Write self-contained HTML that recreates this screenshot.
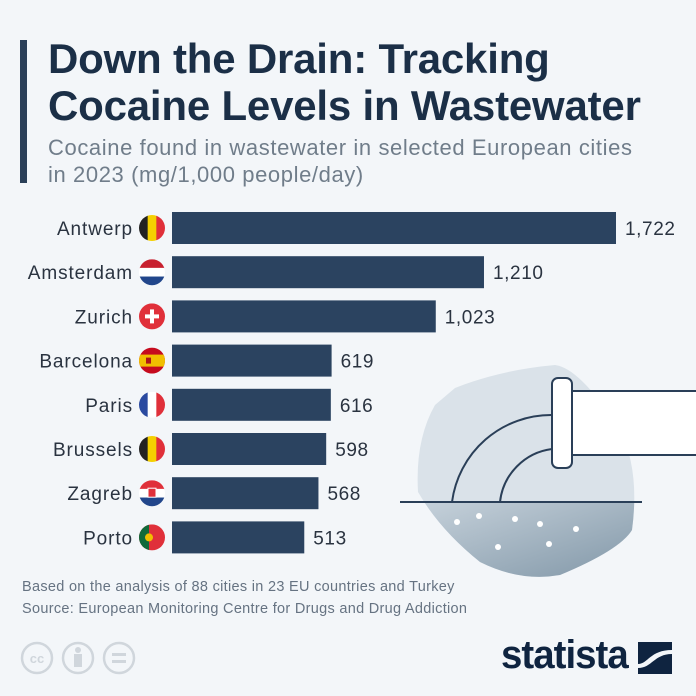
<!DOCTYPE html>
<html><head><meta charset="utf-8">
<style>
body{margin:0;width:696px;height:696px;background:#f3f6f9;font-family:"Liberation Sans",sans-serif;overflow:hidden;position:relative}
.t{position:absolute;left:48px;top:35px;font-size:42px;font-weight:bold;color:#1b2f47;line-height:47px;letter-spacing:-0.2px;white-space:nowrap}
.s{position:absolute;left:48px;top:134px;font-size:22px;color:#707d8a;line-height:27px;letter-spacing:0.6px;white-space:nowrap}
.bar{position:absolute;left:20px;top:40px;width:7px;height:143px;background:#2a3f58}
.f{position:absolute;left:22px;font-size:14.5px;color:#667382;letter-spacing:0.3px;white-space:nowrap}
</style></head><body>
<div class="bar"></div>
<div class="t">Down the Drain: Tracking<br>Cocaine Levels in Wastewater</div>
<div class="s">Cocaine found in wastewater in selected European cities<br>in 2023 (mg/1,000 people/day)</div>
<svg width="696" height="696" style="position:absolute;left:0;top:0">
<defs><linearGradient id="w" x1="0" y1="0" x2="1" y2="1"><stop offset="0" stop-color="#c9d4dd"/><stop offset="1" stop-color="#6c8598"/></linearGradient>
<clipPath id="hx"><path d="M455,388 Q500,370 555,365 Q580,368 620,430 Q640,470 632,530 Q620,550 560,575 Q520,582 480,562 Q440,530 418,492 Q415,440 435,405 Z"/></clipPath></defs>
<g>
<path d="M455,388 Q500,370 555,365 Q580,368 620,430 Q640,470 632,530 Q620,550 560,575 Q520,582 480,562 Q440,530 418,492 Q415,440 435,405 Z" fill="#dae2e9"/>
<rect x="400" y="502" width="300" height="100" fill="url(#w)" clip-path="url(#hx)"/>
<line x1="400" y1="502" x2="642" y2="502" stroke="#2a3f58" stroke-width="2"/>
<path d="M452,502 A100,100 0 0 1 552,415" fill="none" stroke="#2a3f58" stroke-width="2"/>
<path d="M500,502 A60,60 0 0 1 552,449" fill="none" stroke="#2a3f58" stroke-width="2"/>
<rect x="571" y="391" width="130" height="64" fill="#fff"/>
<line x1="571" y1="391" x2="696" y2="391" stroke="#2a3f58" stroke-width="2"/>
<line x1="571" y1="455" x2="696" y2="455" stroke="#2a3f58" stroke-width="2"/>
<rect x="552" y="378" width="20" height="90" rx="6" fill="#fff" stroke="#2a3f58" stroke-width="2"/>
<g fill="#fff"><circle cx="457" cy="522" r="3"/><circle cx="479" cy="516" r="3"/><circle cx="515" cy="519" r="3"/><circle cx="540" cy="524" r="3"/><circle cx="576" cy="529" r="3"/><circle cx="498" cy="547" r="3"/><circle cx="549" cy="544" r="3"/></g>
</g>
<g id="bars"></g>
</svg>
<div class="f" style="top:579px">Based on the analysis of 88 cities in 23 EU countries and Turkey</div>
<div class="f" style="top:601px">Source: European Monitoring Centre for Drugs and Drug Addiction</div>
<svg width="130" height="40" style="position:absolute;left:18px;top:638px">
<g fill="none" stroke="#d0d6dc" stroke-width="2.5"><circle cx="19" cy="20" r="15"/><circle cx="60" cy="20" r="15"/><circle cx="101" cy="20" r="15"/></g>
<text x="19" y="25" font-size="13" text-anchor="middle" fill="#d0d6dc" font-weight="bold">cc</text>
<circle cx="60" cy="12" r="3" fill="#d0d6dc"/><rect x="56" y="16" width="8" height="13" fill="#d0d6dc"/>
<rect x="94" y="15" width="14" height="3" fill="#d0d6dc"/><rect x="94" y="22" width="14" height="3" fill="#d0d6dc"/>
</svg>
<div style="position:absolute;left:501px;top:633px;font-size:40px;font-weight:bold;color:#0f2440;letter-spacing:-1px;transform:scaleX(0.96);transform-origin:left">statista</div>
<svg width="34" height="32" style="position:absolute;left:638px;top:642px"><rect width="34" height="32" fill="#0f2440"/><path d="M0,22 C10,22 12,8 34,8 L34,12 C16,12 14,26 0,26Z" fill="#f3f6f9"/></svg>
<script>
const cities=["Antwerp","Amsterdam","Zurich","Barcelona","Paris","Brussels","Zagreb","Porto"];
const values=[1722,1210,1023,619,616,598,568,513];
const labels=["1,722","1,210","1,023","619","616","598","568","513"];
const flags=["be","nl","ch","es","fr","be","hr","pt"];
const x0=172, sc=444/1722;
const xs=v=>x0+v*sc, ys=i=>212+i*44.2;
const g=document.getElementById('bars');
const NS='http://www.w3.org/2000/svg';
function mk(t,a){const e=document.createElementNS(NS,t);for(const k in a)e.setAttribute(k,a[k]);return e;}
const fl={be:['#222','#f5d000','#e0303a'],nl:['#c8202f','#fff','#21468b'],fr:['#2a4aa0','#fff','#e0303a'],hr:['#e0303a','#fff','#21468b']};
cities.forEach((c,i)=>{
 const y=ys(i);
 const r=mk('rect',{x:x0,y:y,width:xs(values[i])-x0,height:32,fill:'#2b4360'});
 
 
 g.appendChild(r);
 const v=mk('text',{x:xs(values[i])+9,y:y+23,'font-size':19,fill:'#2a3340','letter-spacing':0.6});v.textContent=labels[i];
 
 
 g.appendChild(v);
 const t=mk('text',{x:133,y:y+23,'font-size':19,fill:'#2a3340','text-anchor':'end','letter-spacing':0.9});t.textContent=c;
 
 
 g.appendChild(t);
 const cx=152,cy=y+16,R=13,f=fl[flags[i]];
 const fg=mk('g',{});
 
 
 const cid='c'+i;const cp=mk('clipPath',{id:cid});cp.appendChild(mk('circle',{cx:cx,cy:cy,r:R}));fg.appendChild(cp);
 const inner=mk('g',{'clip-path':'url(#'+cid+')'});
 const vert=['be','fr'].includes(flags[i]);
 if(flags[i]==='pt'){inner.appendChild(mk('rect',{x:cx-R,y:cy-R,width:2*R,height:2*R,fill:'#e0303a'}));inner.appendChild(mk('rect',{x:cx-R,y:cy-R,width:10,height:2*R,fill:'#106a3a'}));inner.appendChild(mk('circle',{cx:cx-3,cy:cy,r:4,fill:'#f1bf00'}));}
 else if(flags[i]==='es'){inner.appendChild(mk('rect',{x:cx-R,y:cy-R,width:2*R,height:2*R,fill:'#c60b1e'}));inner.appendChild(mk('rect',{x:cx-R,y:cy-6,width:2*R,height:12,fill:'#f1bf00'}));inner.appendChild(mk('rect',{x:cx-6,y:cy-3,width:5,height:6,fill:'#ad1519'}));}
 else if(flags[i]==='ch'){inner.appendChild(mk('rect',{x:cx-R,y:cy-R,width:2*R,height:2*R,fill:'#e0303a'}));inner.appendChild(mk('rect',{x:cx-2,y:cy-7,width:4,height:14,fill:'#fff'}));inner.appendChild(mk('rect',{x:cx-7,y:cy-2,width:14,height:4,fill:'#fff'}));}
 else for(let k=0;k<3;k++){const w=2*R/3;inner.appendChild(vert?mk('rect',{x:cx-R+k*w,y:cy-R,width:w+0.5,height:2*R,fill:f[k]}):mk('rect',{x:cx-R,y:cy-R+k*w,width:2*R,height:w+0.5,fill:f[k]}));}
 if(flags[i]==='hr')inner.appendChild(mk('rect',{x:cx-4,y:cy-5,width:8,height:9,fill:'#e0303a',stroke:'#fff','stroke-width':1}));
 fg.appendChild(inner);g.appendChild(fg);
});
</script>
</body></html>
